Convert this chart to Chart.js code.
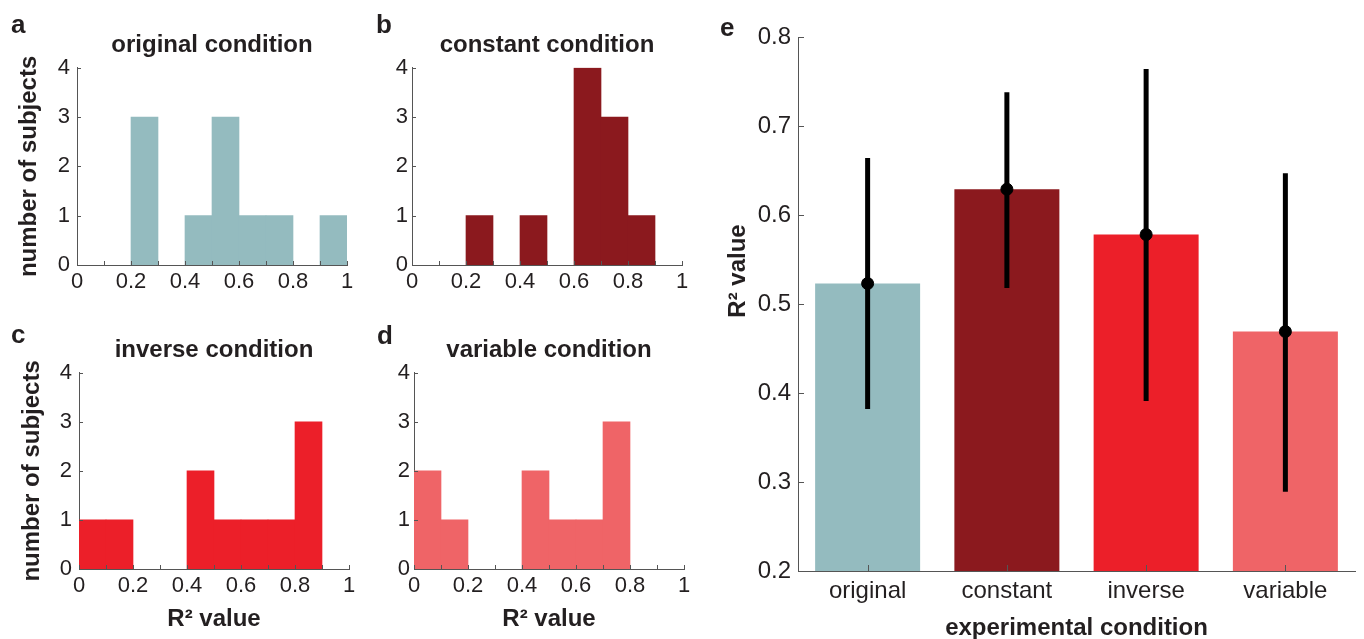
<!DOCTYPE html>
<html>
<head>
<meta charset="utf-8">
<script src="https://cdn.jsdelivr.net/npm/chart.js@4"></script>
<style>
  body { margin: 0; background: #fff; width: 1364px; height: 639px; position: relative; overflow: hidden;
         font-family: 'Liberation Sans', Arial, sans-serif; }
  canvas { position: absolute; }
  .lbl { position: absolute; font-weight: bold; font-size: 26px; line-height: 26px; color: #231f20; }
  .ytitle { position: absolute; left: 737px; top: 271px; transform: translate(-50%, -50%) rotate(-90deg);
            font-weight: bold; font-size: 24px; line-height: 24px; color: #231f20; white-space: nowrap; }
</style>
</head>
<body>
<canvas id="histA" width="360" height="310" style="left:0;top:0"></canvas>
<canvas id="histB" width="360" height="310" style="left:340px;top:0"></canvas>
<canvas id="histC" width="360" height="329" style="left:0;top:310px"></canvas>
<canvas id="histD" width="360" height="329" style="left:340px;top:310px"></canvas>
<canvas id="barE" width="664" height="639" style="left:700px;top:0"></canvas>
<div class="lbl" style="left:11px;top:11px">a</div>
<div class="lbl" style="left:376px;top:11px">b</div>
<div class="lbl" style="left:11px;top:321px">c</div>
<div class="lbl" style="left:377px;top:322px">d</div>
<div class="lbl" style="left:720px;top:14px">e</div>
<div class="ytitle">R² value</div>
<script>
/* ========= DATA ========= */
const binCenters = [0.05, 0.15, 0.25, 0.35, 0.45, 0.55, 0.65, 0.75, 0.85, 0.95];
const binEdges = [0, 0.1, 0.2, 0.3, 0.4, 0.5, 0.6, 0.7, 0.8, 0.9, 1];
const countTicks = [0, 1, 2, 3, 4];

const originalCounts = [0, 0, 3, 0, 1, 3, 1, 1, 0, 1];
const constantCounts = [0, 0, 1, 0, 1, 0, 4, 3, 1, 0];
const inverseCounts  = [1, 1, 0, 0, 2, 1, 1, 1, 3, 0];
const variableCounts = [2, 1, 0, 0, 2, 1, 1, 3, 0, 0];

const conditions = ["original", "constant", "inverse", "variable"];
const meanR2  = [0.523, 0.629, 0.578, 0.469];
const errLow  = [0.382, 0.518, 0.391, 0.289];
const errHigh = [0.664, 0.738, 0.764, 0.647];
const r2Ticks = [0.2, 0.3, 0.4, 0.5, 0.6, 0.7, 0.8];

const condColors = ["#94bbbf", "#8b191e", "#ec1f29", "#ef6467"];
const axisColor = "#555";

/* ========= DEFAULTS ========= */
Chart.defaults.font.family = "'Liberation Sans', Arial, sans-serif";
Chart.defaults.color = "#231f20";
Chart.defaults.animation = false;
Chart.defaults.responsive = false;
Chart.defaults.plugins.legend.display = false;
Chart.defaults.plugins.tooltip.enabled = false;

/* ========= PLUGINS ========= */
// matlab style ticks pointing into the axes
const inTicks = {
  id: "inTicks",
  afterDatasetsDraw(chart, args, o) {
    const { ctx, chartArea: a, scales } = chart;
    ctx.save();
    ctx.strokeStyle = axisColor;
    ctx.lineWidth = 1;
    ctx.beginPath();
    (o.x || []).forEach(v => {
      const px = Math.round(scales.x.getPixelForValue(v)) + 0.5;
      ctx.moveTo(px, a.bottom);
      ctx.lineTo(px, a.bottom - o.len);
    });
    (o.y || []).forEach(v => {
      const py = Math.round(scales.y.getPixelForValue(v)) + 0.5;
      ctx.moveTo(a.left, py);
      ctx.lineTo(a.left + o.len, py);
    });
    ctx.stroke();
    ctx.restore();
  }
};

// error bars, drawn just before the mean dots
const errBars = {
  id: "errBars",
  beforeDatasetDraw(chart, args) {
    if (args.index !== 1) return;
    const { ctx, scales } = chart;
    ctx.save();
    ctx.strokeStyle = "#000";
    ctx.lineWidth = 5;
    conditions.forEach((c, i) => {
      const x = scales.x.getPixelForValue(i);
      ctx.beginPath();
      ctx.moveTo(x, scales.y.getPixelForValue(errLow[i]));
      ctx.lineTo(x, scales.y.getPixelForValue(errHigh[i]));
      ctx.stroke();
    });
    ctx.restore();
  }
};

/* ========= HISTOGRAMS ========= */
function makeHist(id, counts, color, o) {
  new Chart(document.getElementById(id), {
    type: "bar",
    data: {
      datasets: [{
        data: binCenters.map((c, i) => ({ x: c, y: counts[i] })),
        // empty bins: no hairline on the axis
        backgroundColor: ctx => (ctx.raw && ctx.raw.y ? color : "rgba(0,0,0,0)"),
        borderWidth: 0,
        barPercentage: 1,
        categoryPercentage: 1
      }]
    },
    options: {
      layout: { padding: { left: 0, right: o.padRight, top: 0, bottom: 0 } },
      plugins: {
        title: {
          display: true, text: o.title, fullSize: false, color: "#231f20",
          font: { size: 24, weight: "bold" },
          padding: { top: o.titleTop, bottom: 8 }
        },
        inTicks: { x: binEdges, y: countTicks, len: 4 }
      },
      scales: {
        x: {
          type: "linear", min: 0, max: 1, offset: false,
          grid: { display: false, drawTicks: false },
          border: { color: axisColor, width: 1 },
          ticks: { stepSize: 0.2, font: { size: 22 }, padding: 4, maxRotation: 0,
                   callback: v => String(Number(v.toFixed(1))) },
          title: {
            display: !!o.xTitle, text: "R² value",
            font: { size: 24, weight: "bold" }, padding: { top: 0, bottom: 5 }
          },
          afterFit: s => { s.height = o.xHeight; }
        },
        y: {
          min: 0, max: 4,
          grid: { display: false, drawTicks: false },
          border: { color: axisColor, width: 1 },
          ticks: { stepSize: 1, font: { size: 22 }, padding: o.yPad },
          title: {
            display: !!o.yTitle, text: "number of subjects",
            font: { size: 24, weight: "bold" }, padding: { top: o.yTitleTop || 0, bottom: 0 }
          },
          afterFit: s => { s.width = o.yWidth; }
        }
      }
    },
    plugins: [inTicks]
  });
}

makeHist("histA", originalCounts, condColors[0], {
  title: "original condition", titleTop: 31, padRight: 13, xHeight: 45, yWidth: 77, yPad: 7, yTitle: true, yTitleTop: 15
});
makeHist("histB", constantCounts, condColors[1], {
  title: "constant condition", titleTop: 31, padRight: 18, xHeight: 45, yWidth: 72, yPad: 4
});
makeHist("histC", inverseCounts, condColors[2], {
  title: "inverse condition", titleTop: 26, padRight: 11, xHeight: 70, yWidth: 79, yPad: 7, yTitle: true, yTitleTop: 18, xTitle: true
});
makeHist("histD", variableCounts, condColors[3], {
  title: "variable condition", titleTop: 26, padRight: 16, xHeight: 70, yWidth: 74, yPad: 4, xTitle: true
});

/* ========= BARRE + ERRORI ========= */
new Chart(document.getElementById("barE"), {
  type: "bar",
  data: {
    labels: conditions,
    datasets: [{
      data: meanR2,
      backgroundColor: condColors,
      borderWidth: 0,
      barPercentage: 0.754,
      categoryPercentage: 1,
      order: 2
    }, {
      type: "line",
      data: meanR2,
      showLine: false,
      pointRadius: 6,
      pointBackgroundColor: "#000",
      pointBorderColor: "#000",
      order: 1
    }]
  },
  options: {
    layout: { padding: { left: 0, right: 9, top: 37, bottom: 0 } },
    plugins: {
      inTicks: { x: [0, 1, 2, 3], y: r2Ticks, len: 6 }
    },
    scales: {
      x: {
        grid: { display: false, drawTicks: false },
        border: { color: axisColor, width: 1 },
        ticks: { font: { size: 24 }, padding: 6 },
        title: {
          display: true, text: "experimental condition",
          font: { size: 24, weight: "bold" }, padding: { top: 0, bottom: -4 }
        },
        afterFit: s => { s.height = 68; }
      },
      y: {
        min: 0.2, max: 0.8,
        grid: { display: false, drawTicks: false },
        border: { color: axisColor, width: 1 },
        ticks: { stepSize: 0.1, font: { size: 24 }, padding: 7, callback: v => v.toFixed(1) },
        // y title is the .ytitle div: in the figure it sits above the axis centre
        title: { display: false },
        afterFit: s => { s.width = 98; }
      }
    }
  },
  plugins: [inTicks, errBars]
});
</script>
</body>
</html>
